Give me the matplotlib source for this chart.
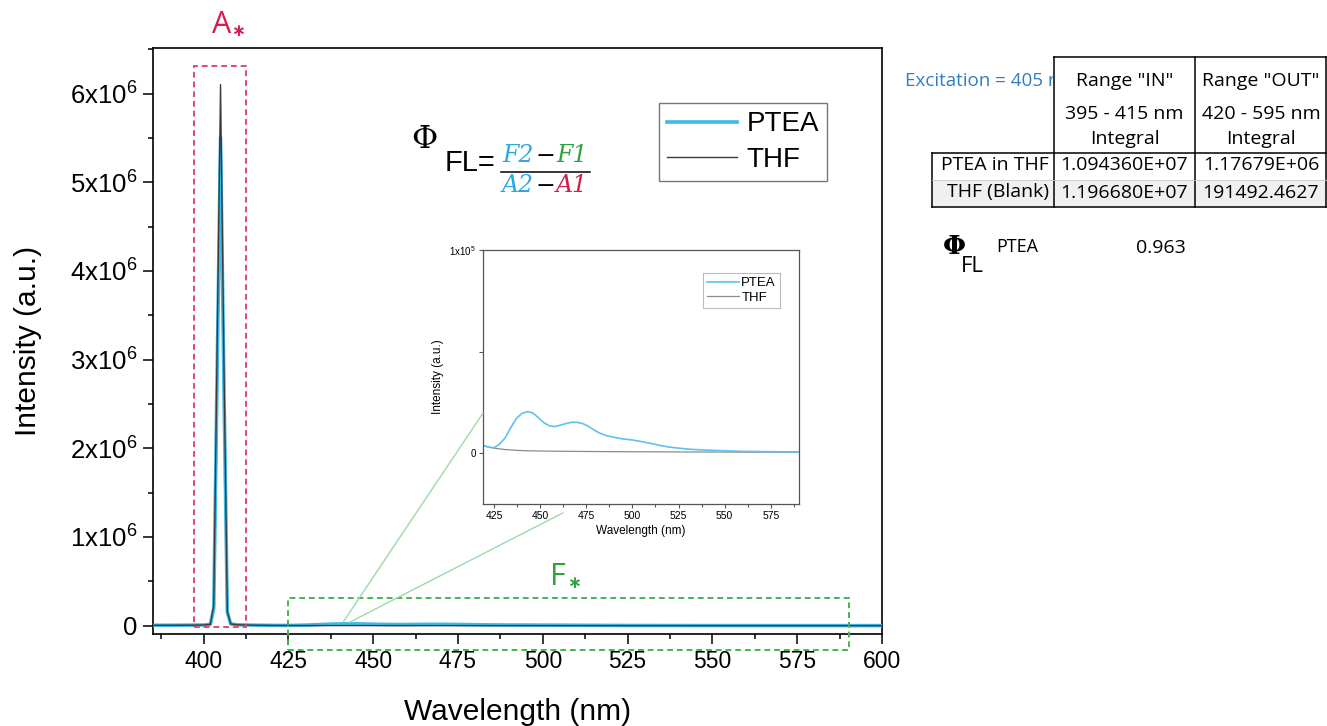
import matplotlib
matplotlib.use("Agg")
import matplotlib.pyplot as plt
from matplotlib.patches import Rectangle, ConnectionPatch
from matplotlib.lines import Line2D
from matplotlib.offsetbox import TextArea, HPacker, AnnotationBbox
from matplotlib.ticker import FixedLocator, MultipleLocator, FuncFormatter
from matplotlib.transforms import Bbox, TransformedBbox

plt.rcParams['font.family'] = ['Liberation Sans', 'DejaVu Sans']
plt.rcParams['mathtext.fontset'] = 'custom'
plt.rcParams['mathtext.rm'] = 'Liberation Sans'
plt.rcParams['mathtext.it'] = 'Liberation Sans:italic'

# ---------------- data ----------------
wavelength = [385, 390, 395, 400, 402, 403, 404, 405, 406, 407, 408, 410, 415,
              419, 422, 425, 428, 431, 434, 437, 440, 443, 446, 449, 452, 455,
              458, 461, 464, 467, 470, 473, 476, 479, 482, 486, 490, 495, 500,
              505, 510, 515, 520, 525, 530, 540, 550, 560, 570, 580, 590, 600]
ptea = [5000, 5000, 6000, 8000, 15000, 200000, 2850000, 5500000, 2700000,
        150000, 20000, 10000, 6000,
        3800, 3000, 2700, 4500, 7500, 12500, 17000, 19500, 20500, 19800,
        17500, 15000, 13500, 13100, 13800, 14600, 15200, 15200, 14600, 13300,
        11500, 10000, 8600, 7800, 7000, 6500, 5700, 4800, 3800, 3000, 2500,
        2000, 1500, 1200, 900, 800, 700, 650, 650]
thf = [5000, 5000, 6000, 8000, 16000, 230000, 3150000, 6100000, 2950000,
       160000, 20000, 10000, 6000,
       3800, 3000, 2500, 2100, 1800, 1600, 1400, 1300, 1200, 1150, 1100, 1050,
       1000, 980, 950, 920, 900, 880, 860, 840, 820, 800, 780, 760, 740, 720,
       700, 680, 660, 640, 620, 600, 580, 560, 540, 520, 500, 500, 500]

series_labels = ['PTEA', 'THF']
x_ticks = [400, 425, 450, 475, 500, 525, 550, 575, 600]
y_ticks = [0, 1e6, 2e6, 3e6, 4e6, 5e6, 6e6]
inset_x_ticks = [425, 450, 475, 500, 525, 550, 575]
inset_y_ticks = [0, 5e4, 1e5]

table_cols = ['Range "IN"', 'Range "OUT"']
table_ranges = ['395 - 415 nm', '420 - 595 nm']
table_rows = ['PTEA in THF', 'THF (Blank)']
table_values = [['1.094360E+07', '1.17679E+06'],
                ['1.196680E+07', '191492.4627']]
phi_value = '0.963'

# ---------------- styling ----------------
W, H = 1327, 726
BLUE = '#3db9ea'
BLUE_IN = '#5cc2ee'
GRAY = '#3a3a3a'
GRAY_IN = '#8c8c8c'
RED = '#d41c4e'
RED_BOX = '#e04a70'
GREEN = '#2ea43c'
GREEN_BOX = '#45b552'
FBLUE = '#2ea7e0'


def fx(px):
    return px / W


def fy(py):
    return 1 - py / H


fig = plt.figure(figsize=(W / 100, H / 100), dpi=100)

# ---------------- main axes ----------------
ax = fig.add_axes([fx(152.7), fy(634.3), fx(882) - fx(152.7), fy(48) - fy(634.3)])
ax.plot(wavelength, ptea, color=BLUE, lw=2.6, label=series_labels[0], zorder=3)
ax.plot(wavelength, thf, color=GRAY, lw=1.0, label=series_labels[1], zorder=4)
ax.set_xlim(385, 600)
ax.set_ylim(-0.097e6, 6.513e6)
ax.xaxis.set_major_locator(FixedLocator(x_ticks))
ax.xaxis.set_minor_locator(MultipleLocator(12.5))
ax.yaxis.set_major_locator(FixedLocator(y_ticks))
ax.yaxis.set_minor_locator(MultipleLocator(0.5e6))


def yfmt(v, pos):
    k = int(round(v / 1e6))
    return '0' if k == 0 else r'%dx10$^{6}$' % k


ax.yaxis.set_major_formatter(FuncFormatter(yfmt))
ax.tick_params(which='major', direction='out', length=7, width=1.1,
               labelsize=16.5, pad=4)
ax.tick_params(axis='y', which='major', labelsize=18.5)
ax.tick_params(which='minor', direction='out', length=3.5, width=1.1)
for s in ax.spines.values():
    s.set_linewidth(1.2)
ax.set_xlabel('Wavelength (nm)', fontsize=21.5, labelpad=18)
ax.set_ylabel('Intensity (a.u.)', fontsize=21.5, labelpad=20)

leg = ax.legend(loc='upper left', bbox_to_anchor=(fx(659), fy(103)),
                bbox_transform=fig.transFigure, fontsize=20, frameon=True,
                fancybox=False, edgecolor='#555555', borderpad=0.3,
                handlelength=2.5, handletextpad=0.35, labelspacing=0.35,
                borderaxespad=0)
leg.get_frame().set_linewidth(1.0)

# dashed boxes
ax.add_patch(Rectangle((397.2, -0.015e6), 15.3, 6.325e6, fill=False,
                       ec=RED_BOX, lw=1.4, ls=(0, (3, 2)), zorder=5))
ax.add_patch(Rectangle((425, -0.274e6), 165.2, 0.583e6, fill=False,
                       ec=GREEN_BOX, lw=1.4, ls=(0, (3, 2)), zorder=5,
                       clip_on=False))

for (px, py), letter, col in [((222, 25), 'A', RED), ((558, 577), 'F', GREEN)]:
    fig.text(fx(px), fy(py), letter, color=col, fontsize=22, family='Open Sans',
             ha='center', va='center')
    fig.text(fx(px + 16), fy(py + 6), '∗', color=col, fontsize=12,
             family='DejaVu Sans', weight='bold', ha='center', va='center')

# ---------------- inset ----------------
ins = fig.add_axes([fx(483), fy(504), fx(799) - fx(483), fy(250) - fy(504)])
ins.plot(wavelength, thf, color=GRAY_IN, lw=0.9, label=series_labels[1])
ins.plot(wavelength, ptea, color=BLUE_IN, lw=1.2, label=series_labels[0])
ins.set_xlim(419, 590.3)
ins.set_ylim(-0.25e5, 1e5)
ins.xaxis.set_major_locator(FixedLocator(inset_x_ticks))
ins.xaxis.set_minor_locator(MultipleLocator(12.5))
ins.yaxis.set_major_locator(FixedLocator(inset_y_ticks))


def iyfmt(v, pos):
    if v == 0:
        return '0'
    if abs(v - 1e5) < 1:
        return r'1x10$^{5}$'
    return ''


ins.yaxis.set_major_formatter(FuncFormatter(iyfmt))
ins.tick_params(axis='x', which='major', direction='out', length=3, width=0.8,
                labelsize=7.5, pad=2, color='#555555')
ins.tick_params(axis='x', which='minor', direction='out', length=2, width=0.8,
                color='#555555')
ins.tick_params(axis='y', which='major', direction='out', length=3, width=0.8,
                labelsize=7, pad=2, color='#555555')
for s in ins.spines.values():
    s.set_linewidth(0.9)
    s.set_color('#555555')
ins.set_xlabel('Wavelength (nm)', fontsize=8.5, labelpad=3)
ins.set_ylabel('Intensity (a.u.)', fontsize=8.5, labelpad=4)
h, l = ins.get_legend_handles_labels()
il = ins.legend([h[1], h[0]], [l[1], l[0]], loc='upper left',
                bbox_to_anchor=(fx(703), fy(273)), bbox_transform=fig.transFigure,
                fontsize=9.5, fancybox=False, edgecolor='#aaaaaa', borderpad=0.3,
                handlelength=2.4, handletextpad=0.2, labelspacing=0.2,
                borderaxespad=0)
il.get_frame().set_linewidth(0.8)

# connector lines (zoom indication)
for (xa, ya), (xb, yb) in [((441.3, 0.05e6), (0.0, 0.358)),
                           ((443.1, 0.04e6), (0.253, -0.035))]:
    cp = ConnectionPatch(xyA=(xa, ya), coordsA=ax.transData,
                         xyB=(xb, yb), coordsB=ins.transAxes,
                         color='#9fd9a6', lw=1.0, zorder=6)
    fig.add_artist(cp)

# ---------------- formula ----------------
fig.text(fx(424), fy(140), 'Φ', fontsize=23, family='DejaVu Serif',
         ha='center', va='center')
fig.text(fx(470), fy(163), 'FL=', fontsize=21, ha='center', va='center')


def frac_row(parts, y):
    boxes = [TextArea(t, textprops=dict(color=c, fontsize=17,
                                        family='DejaVu Serif',
                                        style=('normal' if t == '−' else 'italic')))
             for t, c in parts]
    pack = HPacker(children=boxes, pad=0, sep=1)
    ab = AnnotationBbox(pack, (fx(545), fy(y)), xycoords='figure fraction',
                        frameon=False, box_alignment=(0.5, 0.5))
    fig.add_artist(ab)


frac_row([('F2', FBLUE), ('−', 'black'), ('F1', GREEN)], 156)
frac_row([('A2', FBLUE), ('−', 'black'), ('A1', RED)], 186)
fig.add_artist(Line2D([fx(501), fx(590)], [fy(172), fy(172)], color='black',
                      lw=1.1, transform=fig.transFigure))

# ---------------- table ----------------
TF = 'Open Sans'
TS = 14
line_kw = dict(color='black', lw=1.1, transform=fig.transFigure)
fig.add_artist(Rectangle((fx(932), fy(207)), fx(1326) - fx(932), fy(180) - fy(207),
                         transform=fig.transFigure, fc='#f0f0f0', ec='none'))
for (x0, y0, x1, y1) in [(1054, 57, 1326, 57), (1054, 57, 1054, 207),
                         (1195, 57, 1195, 207), (1326, 57, 1326, 207),
                         (932, 153, 1326, 153), (932, 153, 932, 207),
                         (932, 207, 1326, 207)]:
    fig.add_artist(Line2D([fx(x0), fx(x1)], [fy(y0), fy(y1)], **line_kw))
fig.add_artist(Line2D([fx(932), fx(1326)], [fy(180), fy(180)], color='#c8c8c8',
                      lw=0.6, transform=fig.transFigure))

exc = fig.text(fx(905), fy(81), 'Excitation = 405 nm', color='#2f7fc1',
               fontsize=TS - 0.5, family=TF, ha='left', va='center')
exc.set_clip_box(TransformedBbox(Bbox([[0, 0], [fx(1053), 1]]), fig.transFigure))
exc.set_clip_on(True)

col_centers = [1124.5, 1261]
for cx, head, rng in zip(col_centers, table_cols, table_ranges):
    fig.text(fx(cx), fy(81), head, fontsize=TS, family=TF, ha='center', va='center')
    fig.text(fx(cx), fy(114), rng, fontsize=TS, family=TF, ha='center', va='center')
    fig.text(fx(cx), fy(139), 'Integral', fontsize=TS, family=TF, ha='center', va='center')
for ry, rname, vals in zip([165.5, 192.5], table_rows, table_values):
    fig.text(fx(1049), fy(ry), rname, fontsize=TS, family=TF, ha='right', va='center')
    for cx, v in zip(col_centers, vals):
        fig.text(fx(cx), fy(ry), v, fontsize=TS, family=TF, ha='center', va='center')

fig.text(fx(954), fy(246), 'Φ', fontsize=19, family='DejaVu Serif',
         weight='bold', ha='center', va='center')
fig.text(fx(972), fy(267), 'FL', fontsize=16, family=TF, ha='center', va='center')
fig.text(fx(1017), fy(247), 'PTEA', fontsize=13, family=TF, ha='center', va='center')
fig.text(fx(1161), fy(248), phi_value, fontsize=TS, family=TF, ha='center', va='center')

fig.savefig('out.png', dpi=100)
